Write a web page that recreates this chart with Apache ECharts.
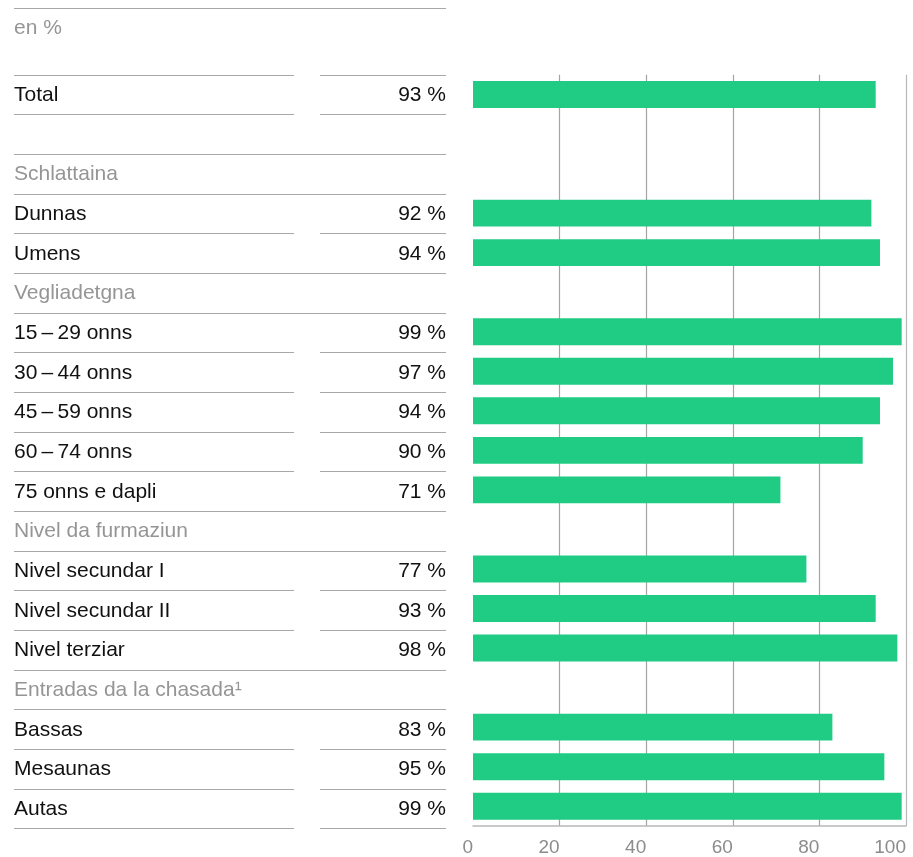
<!DOCTYPE html>
<html>
<head>
<meta charset="utf-8">
<script src="https://cdn.jsdelivr.net/npm/echarts@6/dist/echarts.min.js"></script>
<style>
html,body{margin:0;padding:0;background:#fff;}
#chart{width:913px;height:857px;}
</style>
</head>
<body>
<div id="chart"></div>
<script>
// ---- data ----
var unitLabel = 'en %';
var categories = [
  'Total', '', 'Schlattaina', 'Dunnas', 'Umens', 'Vegliadetgna',
  '15\u2009–\u200929 onns', '30\u2009–\u200944 onns', '45\u2009–\u200959 onns', '60\u2009–\u200974 onns', '75 onns e dapli',
  'Nivel da furmaziun', 'Nivel secundar I', 'Nivel secundar II', 'Nivel terziar',
  'Entradas da la chasada\u00B9', 'Bassas', 'Mesaunas', 'Autas'
];
// 'row' = data row, 'head' = group header, 'blank' = spacer
var rowKinds = [
  'row', 'blank', 'head', 'row', 'row', 'head',
  'row', 'row', 'row', 'row', 'row',
  'head', 'row', 'row', 'row',
  'head', 'row', 'row', 'row'
];
var values = [
  93, null, null, 92, 94, null,
  99, 97, 94, 90, 71,
  null, 77, 93, 98,
  null, 83, 95, 99
];
var tickValues = [0, 20, 40, 60, 80, 100];

// ---- styles ----
var FONT = 'Liberation Sans';
var BLACK = '#111111';
var GREY_TXT = '#959595';
var RULE = '#a8a8a8';
var GREEN = '#20cb84';
var TXT_SIZE = 21;

var chart = echarts.init(document.getElementById('chart'), null, {renderer: 'canvas'});

function isFull(k) {
  // boundary k lies between row k-1 and row k
  var a = rowKinds[k - 1], b = rowKinds[k];
  return a === 'head' || b === 'head';
}

var tableData = categories.map(function (c, i) { return [0, i]; });

var option = {
  backgroundColor: '#ffffff',
  animation: false,
  title: {
    text: unitLabel,
    left: 14, top: 16, padding: 0,
    textStyle: {fontFamily: FONT, fontSize: TXT_SIZE, fontWeight: 'normal', color: GREY_TXT, lineHeight: 24}
  },
  graphic: [{
    type: 'line',
    shape: {x1: 14, y1: 8.5, x2: 446, y2: 8.5},
    style: {stroke: RULE, lineWidth: 1.2}
  }],
  grid: [
    {left: 473, right: 7, top: 74.7, bottom: 28.6, containLabel: false},
    {left: 14, width: 432, top: 74.7, bottom: 28.6, containLabel: false}
  ],
  xAxis: [
    {
      gridIndex: 0, type: 'value', min: 0, max: 100, interval: 20,
      axisLine: {show: true, lineStyle: {color: '#b8b8b8', width: 1.5}},
      axisTick: {show: false},
      axisLabel: {
        show: true, align: 'right', margin: 12,
        fontFamily: FONT, fontSize: 19, color: '#8c8c8c',
        formatter: function (v) { return tickValues.indexOf(v) >= 0 ? String(v) : ''; }
      },
      splitLine: {show: true, lineStyle: {color: ['rgba(0,0,0,0)', '#a4a4a4', '#a4a4a4', '#a4a4a4', '#a4a4a4', '#b8b8b8'], width: 1.2}}
    },
    {
      gridIndex: 1, type: 'value', min: 0, max: 1, show: false
    }
  ],
  yAxis: [
    {
      gridIndex: 0, type: 'category', inverse: true, data: categories,
      axisLine: {show: false}, axisTick: {show: false}, axisLabel: {show: false},
      splitLine: {show: false}
    },
    {
      gridIndex: 1, type: 'category', inverse: true, data: categories, show: false
    }
  ],
  series: [
    {
      type: 'bar', xAxisIndex: 0, yAxisIndex: 0,
      data: values,
      barWidth: '68%',
      itemStyle: {color: GREEN},
      silent: true
    },
    {
      type: 'custom', xAxisIndex: 1, yAxisIndex: 1,
      data: tableData,
      encode: {x: 0, y: 1},
      clip: false,
      silent: true,
      renderItem: function (params, api) {
        var idx = api.value(1);
        var cs = params.coordSys;
        var x0 = cs.x, x1 = cs.x + cs.width;
        var cy = api.coord([0, idx])[1];
        var band = api.size([0, 1])[1];
        var children = [];
        var kind = rowKinds[idx];
        var txtColor = kind === 'head' ? GREY_TXT : BLACK;
        var font = TXT_SIZE + 'px "' + FONT + '"';
        if (categories[idx]) {
          children.push({
            type: 'text',
            style: {
              x: x0, y: cy + 0.5, text: categories[idx],
              fill: txtColor, font: font,
              align: 'left', verticalAlign: 'middle'
            }
          });
        }
        if (values[idx] != null) {
          children.push({
            type: 'text',
            style: {
              x: x1, y: cy + 0.5, text: values[idx] + ' %',
              fill: BLACK, font: font,
              align: 'right', verticalAlign: 'middle'
            }
          });
        }
        function rule(y, full) {
          y = Math.round(y) + 0.5;
          if (full) {
            children.push({type: 'line', shape: {x1: x0, y1: y, x2: x1, y2: y}, style: {stroke: RULE, lineWidth: 1.2}});
          } else {
            children.push({type: 'line', shape: {x1: x0, y1: y, x2: x0 + 280, y2: y}, style: {stroke: RULE, lineWidth: 1.2}});
            children.push({type: 'line', shape: {x1: x0 + 306, y1: y, x2: x1, y2: y}, style: {stroke: RULE, lineWidth: 1.2}});
          }
        }
        if (idx === 0) rule(cy - band / 2, isFull(0));
        rule(cy + band / 2, isFull(idx + 1));
        return {type: 'group', children: children};
      }
    }
  ]
};
chart.setOption(option);
</script>
</body>
</html>
